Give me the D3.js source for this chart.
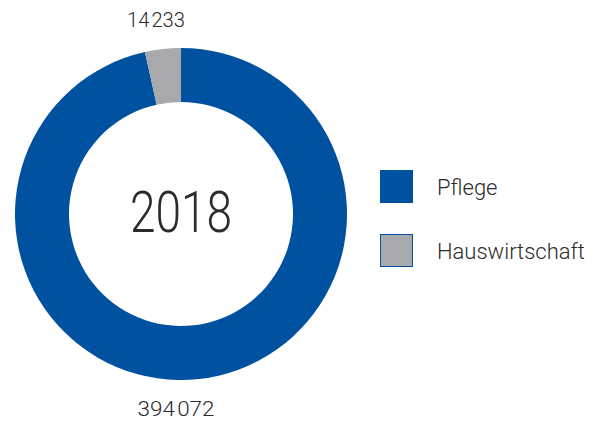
<!DOCTYPE html>
<html>
<head>
<meta charset="utf-8">
<script src="https://cdn.jsdelivr.net/npm/d3@7"></script>
<style>
  body { margin: 0; background: #fff; }
  text { font-family: Roboto, "Noto Sans", sans-serif; font-weight: 300; fill: #2b2b2b; }
</style>
</head>
<body>
<svg width="603" height="423"></svg>
<script>
// data
const categories = ["Pflege", "Hauswirtschaft"];
const values = [394072, 14233];
const valueLabels = ["394\u200A072", "14\u200A233"];
const colors = ["#0052a0", "#a8a9ad"];
const year = "2018";

const svg = d3.select("svg");
const cx = 181, cy = 214;
const outerR = 166, innerR = 112;

// pie: Hauswirtschaft sits left of 12 o'clock, Pflege runs clockwise from top
const pie = d3.pie().sort(null).value(d => d.value)
    .startAngle(0).endAngle(2 * Math.PI);
const data = categories.map((c, i) => ({ name: c, value: values[i], label: valueLabels[i], color: colors[i] }));
const arcs = pie(data);
const arc = d3.arc().innerRadius(innerR).outerRadius(outerR);

const g = svg.append("g").attr("transform", `translate(${cx},${cy})`);
g.selectAll("path")
    .data(arcs)
    .enter()
    .append("path")
    .attr("d", arc)
    .attr("fill", d => d.data.color);

// center year
svg.append("text")
    .attr("x", cx)
    .attr("y", 232)
    .attr("text-anchor", "middle")
    .attr("textLength", 102)
    .attr("lengthAdjust", "spacingAndGlyphs")
    .style("font-size", "57px")
    .text(year);

// value labels
svg.append("text")
    .attr("x", 156)
    .attr("y", 27)
    .attr("text-anchor", "middle")
    .attr("textLength", 58)
    .attr("lengthAdjust", "spacingAndGlyphs")
    .style("font-size", "21px")
    .text(valueLabels[1]);

svg.append("text")
    .attr("x", 176)
    .attr("y", 416)
    .attr("text-anchor", "middle")
    .attr("textLength", 77)
    .attr("lengthAdjust", "spacingAndGlyphs")
    .style("font-size", "21px")
    .text(valueLabels[0]);

// legend
const legend = svg.append("g").attr("transform", "translate(380,170)");
const item = legend.selectAll("g")
    .data(data)
    .enter()
    .append("g")
    .attr("transform", (d, i) => `translate(0,${i * 64})`);
item.append("rect")
    .attr("x", 0.5)
    .attr("y", 0.5)
    .attr("width", 32)
    .attr("height", 32)
    .attr("fill", d => d.color)
    .attr("stroke", colors[0])
    .attr("stroke-width", 1);
item.append("text")
    .attr("x", 57)
    .attr("y", 25)
    .style("font-size", "22px")
    .text(d => d.name);
</script>
</body>
</html>
